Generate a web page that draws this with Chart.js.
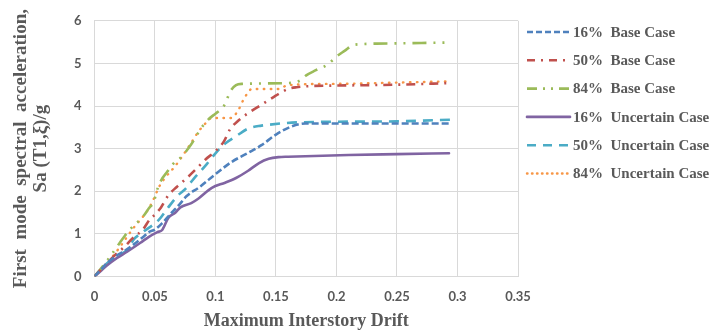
<!DOCTYPE html>
<html>
<head>
<meta charset="utf-8">
<script src="https://cdn.jsdelivr.net/npm/chart.js@4/dist/chart.umd.min.js"></script>
<style>
html,body{margin:0;padding:0;background:#fff;}
#wrap{width:712px;height:330px;position:relative;}
</style>
</head>
<body>
<div id="wrap"><canvas id="c" width="712" height="330"></canvas></div>
<script>
// ---- data ----
const seriesNames = ["16%  Base Case","50%  Base Case","84%  Base Case","16%  Uncertain Case","50%  Uncertain Case","84%  Uncertain Case"];

const drift16Base = [0,0.005,0.01,0.015,0.02,0.025,0.032,0.04,0.045,0.05,0.056,0.064,0.07,0.076,0.087,0.1,0.113,0.127,0.138,0.15,0.163,0.174,0.2,0.25,0.295];
const sa16Base    = [0,0.15,0.3,0.42,0.52,0.6,0.74,0.92,1.04,1.1,1.25,1.5,1.68,1.88,2.1,2.4,2.68,2.9,3.08,3.33,3.52,3.59,3.59,3.59,3.59];

const drift50Base = [0,0.005,0.01,0.017,0.025,0.031,0.04,0.046,0.05,0.055,0.061,0.068,0.076,0.084,0.092,0.1,0.107,0.112,0.119,0.129,0.138,0.148,0.155,0.16,0.167,0.18,0.2,0.25,0.295];
const sa50Base    = [0,0.15,0.3,0.5,0.7,0.88,1.1,1.35,1.45,1.62,1.9,2.1,2.3,2.52,2.75,2.94,3.17,3.45,3.66,3.87,4.03,4.21,4.33,4.4,4.44,4.47,4.48,4.5,4.54];

const drift84Base = [0,0.005,0.01,0.02,0.025,0.03,0.04,0.045,0.049,0.052,0.055,0.06,0.065,0.071,0.08,0.088,0.094,0.1,0.104,0.108,0.112,0.117,0.122,0.16,0.17,0.175,0.183,0.193,0.2,0.207,0.213,0.22,0.25,0.295];
const sa84Base    = [0,0.17,0.35,0.75,0.95,1.12,1.4,1.6,1.75,2.05,2.25,2.45,2.64,2.78,3.1,3.47,3.68,3.82,3.91,4.05,4.33,4.49,4.52,4.54,4.6,4.72,4.84,4.98,5.16,5.3,5.42,5.45,5.47,5.49];

const drift16Unc = [0,0.005,0.01,0.019,0.027,0.038,0.045,0.052,0.056,0.061,0.067,0.071,0.08,0.086,0.097,0.108,0.117,0.127,0.136,0.144,0.152,0.16,0.21,0.25,0.293];
const sa16Unc    = [0,0.12,0.25,0.44,0.58,0.79,0.93,1.04,1.09,1.37,1.5,1.62,1.72,1.83,2.08,2.2,2.31,2.48,2.66,2.76,2.8,2.81,2.85,2.87,2.89];

const drift50Unc = [0,0.005,0.01,0.02,0.028,0.032,0.04,0.053,0.061,0.069,0.075,0.082,0.093,0.1,0.108,0.117,0.127,0.138,0.144,0.158,0.163,0.2,0.25,0.295];
const sa50Unc    = [0,0.15,0.3,0.5,0.64,0.85,1.04,1.32,1.62,1.9,2.05,2.29,2.64,2.89,3.12,3.29,3.47,3.54,3.56,3.6,3.61,3.63,3.64,3.68];

const drift84Unc = [0,0.005,0.01,0.02,0.03,0.034,0.04,0.045,0.05,0.053,0.058,0.067,0.078,0.086,0.092,0.097,0.113,0.119,0.123,0.126,0.13,0.152,0.16,0.2,0.25,0.295];
const sa84Unc    = [0,0.15,0.3,0.65,1.05,1.2,1.4,1.6,1.88,2.08,2.3,2.6,3.05,3.4,3.6,3.72,3.72,3.91,4.14,4.28,4.4,4.4,4.49,4.52,4.55,4.58];

const xTicks = [0,0.05,0.1,0.15,0.2,0.25,0.3,0.35];
const yTicks = [0,1,2,3,4,5,6];

// ---- build ----
function pts(xs, ys){ return xs.map((x,i)=>({x:x, y:ys[i]})); }
const styles = [
  {color:"#4F81BD", dash:[7,3], legendDash:[6,3], cap:"butt", w:2.6},
  {color:"#C0504D", dash:[9,6,2,6], legendDash:[8,6,2,6], cap:"butt", w:2.6},
  {color:"#9BBB59", dash:[14,7,2,7,2,7], legendDash:[10,6,2,6,2,6], cap:"butt", w:2.6},
  {color:"#8064A2", dash:[], legendDash:[], cap:"round", w:2.6},
  {color:"#4BACC6", dash:[10,7], legendDash:[9,7], cap:"butt", w:2.6},
  {color:"#F79646", dash:[0.5,6.5], legendDash:[0.5,4.5], cap:"round", w:2.4}
];
const sets = [
  pts(drift16Base, sa16Base), pts(drift50Base, sa50Base), pts(drift84Base, sa84Base),
  pts(drift16Unc, sa16Unc), pts(drift50Unc, sa50Unc), pts(drift84Unc, sa84Unc)
];
const datasets = sets.map((d,i)=>({
  label: seriesNames[i],
  data: d,
  showLine: true,
  borderColor: styles[i].color,
  backgroundColor: styles[i].color,
  borderWidth: styles[i].w,
  borderDash: styles[i].dash,
  borderCapStyle: styles[i].cap,
  pointRadius: 0,
  pointHoverRadius: 0,
  cubicInterpolationMode: 'monotone',
  fill: false
}));

const gray = "#595959";
const serif = "'Liberation Serif', 'Times New Roman', serif";
const sans = "Lato, 'Liberation Sans', sans-serif";

// custom legend drawn to the right of the plot area
const sideLegend = {
  id: 'sideLegend',
  afterDraw(chart){
    const ctx = chart.ctx;
    const ca = chart.chartArea;
    const x0 = ca.right + 9, x1 = x0 + 43, tx = x1 + 3;
    const y0 = 32, step = 28.3;
    ctx.save();
    ctx.font = "bold 15px " + serif;
    ctx.textBaseline = 'middle';
    ctx.textAlign = 'left';
    chart.data.datasets.forEach((ds,i)=>{
      const y = y0 + i*step;
      ctx.beginPath();
      ctx.strokeStyle = ds.borderColor;
      ctx.lineWidth = ds.borderWidth;
      ctx.lineCap = ds.borderCapStyle;
      ctx.setLineDash(styles[i].legendDash);
      ctx.moveTo(x0, y); ctx.lineTo(x1, y);
      ctx.stroke();
      ctx.setLineDash([]);
      ctx.fillStyle = gray;
      ctx.fillText(ds.label, tx, y + 1);
    });
    ctx.restore();
  }
};

new Chart(document.getElementById('c'), {
  type: 'scatter',
  data: { datasets: datasets },
  plugins: [sideLegend],
  options: {
    responsive: false,
    animation: false,
    devicePixelRatio: 1,
    layout: { padding: { top: 11, right: 194, left: 11, bottom: 0 } },
    plugins: {
      tooltip: { enabled: false },
      legend: { display: false }
    },
    scales: {
      x: {
        type: 'linear',
        min: 0, max: 0.35,
        afterBuildTicks: (ax)=>{ ax.ticks = xTicks.map(v=>({value:v})); },
        ticks: {
          color: gray, font: { family: sans, size: 13, weight: 'bold' }, padding: 13,
          maxRotation: 0,
          callback: (v)=> String(+v.toFixed(2))
        },
        grid: { color: "#d9d9d9", lineWidth: 1, drawTicks: false },
        border: { color: "#d9d9d9" },
        title: {
          display: true, text: "Maximum Interstory Drift", color: gray,
          font: { family: serif, size: 18, weight: 'bold', lineHeight: 1.0 }, padding: { top: -6, bottom: 0 }
        }
      },
      y: {
        type: 'linear',
        min: 0, max: 6,
        afterBuildTicks: (ax)=>{ ax.ticks = yTicks.map(v=>({value:v})); },
        ticks: { color: gray, font: { family: sans, size: 13, weight: 'bold' }, padding: 13 },
        grid: { color: "#d9d9d9", lineWidth: 1, drawTicks: false },
        border: { color: "#d9d9d9" },
        title: {
          display: true, text: ["First  mode  spectral  acceleration,", "Sa (T1,ξ)/g"], color: gray,
          font: { family: serif, size: 19, weight: 'bold', lineHeight: 1.05 }, padding: { top: 0, bottom: 10 }
        }
      }
    }
  }
});
</script>
</body>
</html>
